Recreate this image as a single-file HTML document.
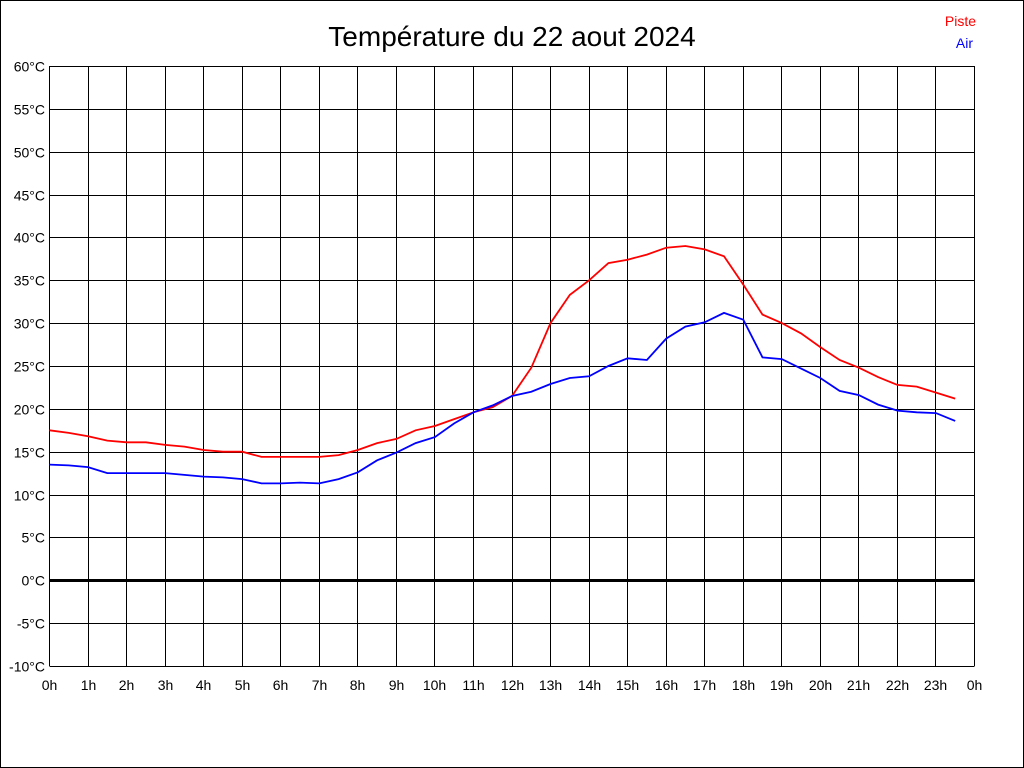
<!DOCTYPE html>
<html><head><meta charset="utf-8"><style>
html,body{margin:0;padding:0;background:#fff}
svg{display:block}
text{font-family:"Liberation Sans",sans-serif}
</style></head><body>
<svg id="s" width="1024" height="768" xmlns="http://www.w3.org/2000/svg">
<rect x="0.5" y="0.5" width="1023" height="767" fill="#fff" stroke="#000"/>
<text x="512" y="46" font-size="28" text-anchor="middle">Température du 22 aout 2024</text>
<text x="976" y="26" font-size="14" fill="#f00" text-anchor="end">Piste</text>
<text x="973" y="48" font-size="14" fill="#00f" text-anchor="end">Air</text>
<g id="g"></g>
</svg>
<script>
var g=document.getElementById('g'),h='';
var x0=49.5,dx=(974.5-49.5)/24,y0=66,dy=42.857;
function X(t){return x0+t*dx}function Y(v){return y0+(60-v)/5*dy}
for(var i=0;i<=24;i++){var x=Math.round(X(i)-0.5)+0.5;h+='<line x1="'+x+'" y1="66" x2="'+x+'" y2="666" stroke="#000" shape-rendering="crispEdges"/>';
h+='<text x="'+x+'" y="690" font-size="14" text-anchor="middle">'+(i%24)+'h</text>';}
for(var v=60;v>=-10;v-=5){var y=Math.round(Y(v))+0.5;h+='<line x1="49.5" y1="'+y+'" x2="974.5" y2="'+y+'" stroke="#000" shape-rendering="crispEdges" stroke-width="'+(v==0?3:1)+'"/>';
h+='<text x="45" y="'+(y+5)+'" font-size="14" text-anchor="end">'+v+'°C</text>';}
var r=[17.5,17.2,16.8,16.3,16.1,16.1,15.8,15.6,15.2,15.0,15.0,14.4,14.4,14.4,14.4,14.6,15.2,16.0,16.5,17.5,18.0,18.8,19.6,20.2,21.5,24.8,30.0,33.3,35.0,37.0,37.4,38.0,38.8,39.0,38.6,37.8,34.5,31.0,30.0,28.8,27.2,25.7,24.8,23.7,22.8,22.6,21.9,21.2];
var b=[13.5,13.4,13.2,12.5,12.5,12.5,12.5,12.3,12.1,12.0,11.8,11.3,11.3,11.4,11.3,11.8,12.6,14.0,14.9,16.0,16.7,18.3,19.6,20.4,21.5,22.0,22.9,23.6,23.8,25.0,25.9,25.7,28.2,29.6,30.1,31.2,30.4,26.0,25.8,24.7,23.6,22.1,21.6,20.5,19.8,19.6,19.5,18.6];
function pl(a,c){return '<polyline fill="none" stroke="'+c+'" stroke-width="1.8" points="'+a.map(function(v,i){return X(i/2).toFixed(1)+','+Y(v).toFixed(1)}).join(' ')+'"/>'}
h+=pl(r,'#f00')+pl(b,'#00f');
g.innerHTML=h;
</script>
</body></html>
